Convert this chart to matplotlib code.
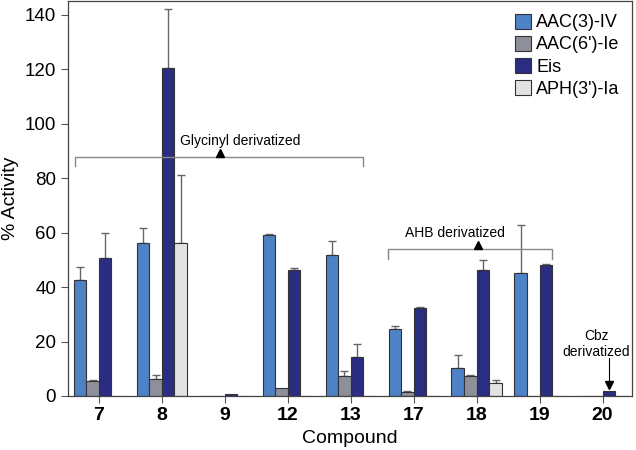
import numpy as np
import matplotlib
matplotlib.use("Agg")
import matplotlib.pyplot as plt

plt.rcParams['font.family'] = ['Liberation Sans', 'DejaVu Sans']

compounds = ["7", "8", "9", "12", "13", "17", "18", "19", "20"]
enzymes = ["AAC(3)-IV", "AAC(6')-Ie", "Eis", "APH(3')-Ia"]

aac3_vals = [42.5, 56.3, 0, 59.2, 51.8, 24.7, 10.2, 45.2, 0]
aac3_err = [5.0, 5.3, 0, 0.3, 5.2, 1.0, 4.8, 17.7, 0]
aac6_vals = [5.4, 6.3, 0, 2.9, 7.5, 1.3, 7.3, 0, 0]
aac6_err = [0.3, 1.5, 0, 0, 1.8, 0.6, 0.4, 0, 0]
eis_vals = [50.5, 120.4, 0.6, 46.2, 14.3, 32.4, 46.2, 48.1, 1.7]
eis_err = [9.4, 21.6, 0, 0.7, 4.7, 0.2, 3.8, 0.2, 0]
aph_vals = [0, 56.1, 0, 0, 0, 0, 4.9, 0, 0]
aph_err = [0, 24.9, 0, 0, 0, 0, 0.9, 0, 0]

colors = ["#4f81c6", "#8d909b", "#2a2d82", "#e2e2e2"]

fig = plt.figure(figsize=(6.36, 4.5), dpi=100)
ax = fig.add_axes([0.107, 0.12, 0.887, 0.878])

x = np.arange(len(compounds))
w = 0.2
series = [(aac3_vals, aac3_err), (aac6_vals, aac6_err),
          (eis_vals, eis_err), (aph_vals, aph_err)]
for i, (vals, err) in enumerate(series):
    pos = x + (i - 1.5) * w
    ax.bar(pos, vals, w, color=colors[i], edgecolor="#333333",
           linewidth=0.8, label=enzymes[i], zorder=2)
    e = np.array(err)
    m = e > 0
    ax.errorbar(pos[m], np.array(vals)[m], yerr=[np.zeros(m.sum()), e[m]],
                fmt="none", ecolor="#666666", elinewidth=1.0, capsize=3,
                capthick=1.0, zorder=1)

ax.set_xlim(-0.49, 8.47)
ax.set_ylim(0, 145)
ax.set_yticks(range(0, 141, 20))
ax.set_xticks(x)
ax.set_xticklabels(compounds, fontsize=14, fontweight="bold")
ax.tick_params(axis="y", labelsize=13.5, length=5, width=0.8, color="#555555")
ax.tick_params(axis="x", length=5, width=0.8, color="#555555", pad=3)
for s in ax.spines.values():
    s.set_color("#444444")
    s.set_linewidth(0.9)
ax.set_xlabel("Compound", fontsize=14, labelpad=4)
ax.set_ylabel("% Activity", fontsize=14, labelpad=4)

# brackets
br = "#888888"
ax.plot([-0.38, -0.38, 4.19, 4.19], [84.3, 87.7, 87.7, 84.3], color=br, lw=1.0)
ax.plot(1.92, 89.0, marker="^", color="black", markersize=5.5)
ax.text(2.25, 93.5, "Glycinyl derivatized", ha="center", va="center", fontsize=10)

ax.plot([4.59, 4.59, 7.2, 7.2], [50.4, 54.1, 54.1, 50.4], color=br, lw=1.0)
ax.plot(6.02, 55.4, marker="^", color="black", markersize=5.5)
ax.text(5.65, 59.8, "AHB derivatized", ha="center", va="center", fontsize=10)

ax.text(7.9, 19.2, "Cbz\nderivatized", ha="center", va="center", fontsize=10,
        linespacing=1.15)
ax.plot([8.1, 8.1], [13.9, 5.0], color="black", lw=0.8)
ax.plot(8.1, 4.2, marker="v", color="black", markersize=5.5)

leg = ax.legend(loc="upper right", frameon=False, fontsize=13,
                handlelength=0.9, handleheight=0.9, handletextpad=0.3,
                labelspacing=0.25, borderaxespad=0.3)

fig.savefig("out.png", dpi=100)
